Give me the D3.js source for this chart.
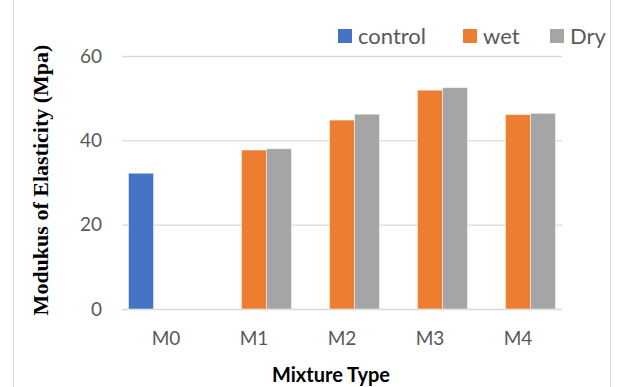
<!doctype html>
<meta charset="utf8">
<style>
  body { margin: 0; background: #fff; }
  svg { display: block; }
</style>
<body>
<div id="chart"></div>
<script src="https://d3js.org/d3.v7.min.js"></script>
<script>
(function() {

const CATEGORIES = ["M0", "M1", "M2", "M3", "M4"];
const SERIES = ["control", "wet", "Dry"];
const CONTROL = [32.2, null, null, null, null];
const WET = [null, 37.7, 44.8, 51.9, 46.1];
const DRY = [null, 38.0, 46.2, 52.5, 46.4];
const Y_TICKS = [0, 20, 40, 60];
const COLORS = ["#4472c4", "#ed7d31", "#a5a5a5"];

const width = 635;
const height = 387;
const margin = {top: 56, right: 73, bottom: 78, left: 122};
const font = "Lato, 'Open Sans', sans-serif";

const svg = d3.select("#chart").append("svg")
  .attr("width", width)
  .attr("height", height);

// chart frame
svg.append("rect")
  .attr("x", 13.5).attr("y", -2)
  .attr("width", 597).attr("height", height + 5)
  .attr("fill", "none")
  .attr("stroke", "#d9d9d9");

const x = d3.scaleBand()
  .domain(CATEGORIES)
  .range([margin.left, width - margin.right])
  .paddingInner(0.148)
  .paddingOuter(0.074);

const xs = d3.scaleBand()
  .domain(SERIES)
  .range([0, x.bandwidth()]);

const y = d3.scaleLinear()
  .domain([0, 60])
  .range([height - margin.bottom, margin.top]);

const yAxis = svg.append("g")
  .attr("transform", `translate(${margin.left},0)`)
  .call(d3.axisLeft(y).tickValues(Y_TICKS).tickSize(-(width - margin.left - margin.right)).tickPadding(20));
yAxis.select(".domain").remove();
yAxis.selectAll(".tick line").attr("stroke", "#d9d9d9").attr("stroke-width", 1.3);
yAxis.selectAll(".tick text")
  .attr("fill", "#595959")
  .style("font", `19px ${font}`);

const xAxis = svg.append("g")
  .attr("transform", `translate(0,${height - margin.bottom})`)
  .call(d3.axisBottom(x).tickSize(0).tickPadding(23));
xAxis.select(".domain").remove();
xAxis.selectAll(".tick text")
  .attr("fill", "#595959")
  .style("font", `19px ${font}`);

const table = [CONTROL, WET, DRY];
const rows = [];
CATEGORIES.forEach((c, i) => {
  SERIES.forEach((s, j) => {
    const v = table[j][i];
    if (v != null) rows.push({category: c, series: s, value: v, color: COLORS[j]});
  });
});

svg.append("g").selectAll("rect")
  .data(rows)
  .join("rect")
    .attr("x", d => x(d.category) + xs(d.series))
    .attr("y", d => y(d.value))
    .attr("width", xs.bandwidth())
    .attr("height", d => y(0) - y(d.value))
    .attr("fill", d => d.color)
    .attr("stroke", "#fff")
    .attr("stroke-opacity", 0.6)
    .attr("stroke-width", 0.8);

// legend
const legend = svg.append("g");
const legendX = [338, 463, 550];
SERIES.forEach((s, i) => {
  legend.append("rect")
    .attr("x", legendX[i]).attr("y", 29)
    .attr("width", 14).attr("height", 14)
    .attr("fill", COLORS[i]);
  legend.append("text")
    .attr("x", legendX[i] + 20).attr("y", 44)
    .attr("fill", "#595959")
    .style("font", `22px ${font}`)
    .text(s);
});

// axis titles
svg.append("text")
  .attr("transform", "translate(48,180) rotate(-90)")
  .attr("text-anchor", "middle")
  .style("font", "bold 22px 'Liberation Serif', serif")
  .attr("fill", "#000")
  .text("Modukus of Elasticity (Mpa)");

svg.append("text")
  .attr("x", 331).attr("y", 382)
  .attr("text-anchor", "middle")
  .style("font", `bold 20px ${font}`)
  .attr("fill", "#000")
  .text("Mixture Type");

})();
</script>
</body>
